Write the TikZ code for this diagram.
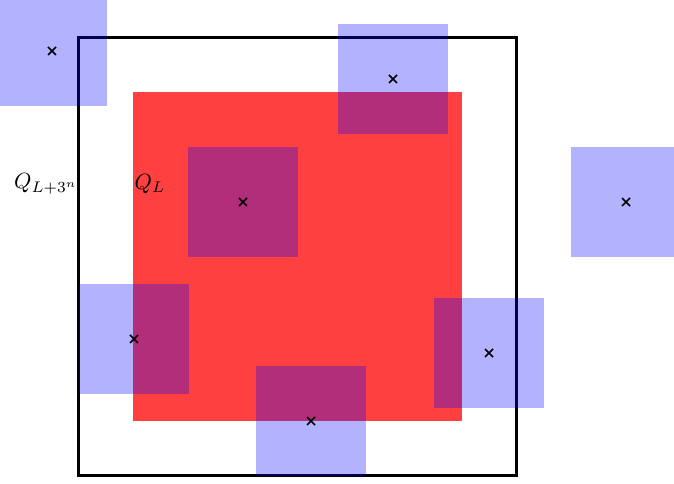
\documentclass[tikz,border=0pt]{standalone}
\begin{document}
\begin{tikzpicture}[x=1pt,y=1pt,
  bluebox/.style={fill=blue,fill opacity=0.3,draw=none,minimum size=110pt,inner sep=0pt,outer sep=0pt},
  crossline/.style={line width=1.5pt,black},
  qlabel/.style={scale=2.2,inner sep=0pt}]
\useasboundingbox (0,0) rectangle (674,484);
\clip (0,0) rectangle (674,484);
\node[draw=black,line width=3pt,minimum size=438pt,inner sep=0pt,outer sep=0pt] (big) at (297.5,227) {};
\node[fill=red,fill opacity=0.75,draw=none,minimum size=329pt,inner sep=0pt] (small) at (297.5,227) {};
\foreach \n/\x/\y in {b1/52/433, b2/393/405, b3/626/282, b4/243/282, b5/134/145, b6/489/131, b7/311/63}{
  \node[bluebox] (\n) at (\x,\y) {};
  \draw[crossline] ([shift={(-4,-4)}]\n.center) -- ([shift={(4,4)}]\n.center);
  \draw[crossline] ([shift={(-4,4)}]\n.center) -- ([shift={(4,-4)}]\n.center);
}
\node[qlabel] (qbig) at (46,300) {$Q_{L+3^n}$};
\node[qlabel] (qsmall) at (150,300) {$Q_L$};
\end{tikzpicture}
\end{document}
